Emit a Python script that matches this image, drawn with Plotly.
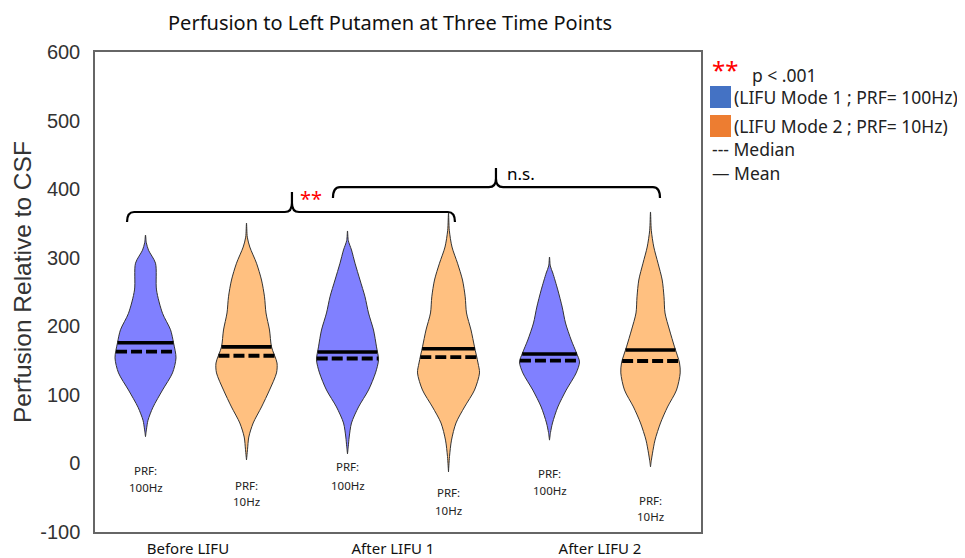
import numpy as np
import plotly.graph_objects as go

# ---------------- data ----------------
groups = ["Before LIFU", "After LIFU 1", "After LIFU 2"]
modes = ["100Hz", "10Hz", "100Hz", "10Hz", "100Hz", "10Hz"]
violin_pos = [0, 1, 2, 3, 4, 5]
y_ticks = [-100, 0, 100, 200, 300, 400, 500, 600]
y_ticktext = ["-100", "0", "100", "200", "300", "400", "500", "600"]

# density profiles: value -> half width (in px of a 101px category)
v1_vals = [333, 322, 311, 292, 253, 219, 195, 176, 154, 132, 107, 82, 63, 50, 39]
v1_hw   = [0,   0.8, 3,   10,  11,  17,  25,  28,  30.5, 27, 17,  7.5, 2.5, 1, 0]
v2_vals = [350.6, 330, 315.6, 292, 267.5, 243, 219.4, 194.6, 170, 146.5, 132, 107, 82.3, 59, 38.5, 20, 5]
v2_hw   = [0,     0.8, 3.3,   10,  15,    18,  19.5,  23,    25,  30.5,  30,  23,  15,   6.7, 2.3, 1, 0]
v3_vals = [339, 325, 311.3, 292, 267.5, 243, 219.4, 194.6, 170, 151, 132, 107, 82.3, 59, 38.5, 25, 13.8]
v3_hw   = [0,   0.8, 4,     7.5, 12.5,  17.5, 21,   26,    29,  31,  28,  21,  11,   4,  1.7,  0.8, 0]
v4_vals = [365, 340, 315.6, 292, 267.5, 243, 219.4, 194.6, 170, 146.5, 132, 107, 82.3, 59, 34, 10, -12.5]
v4_hw   = [0,   0.8, 3.5,   9,   14,    16.7, 18,   22.5,  26,  29.5,  31,  26,  16,   7.5, 3, 1, 0]
v5_vals = [301, 288, 277.7, 253, 228, 204.8, 180, 161, 148, 132, 107, 82.3, 59, 45, 34]
v5_hw   = [0,   0.8, 3.3,   8.3, 12.7, 16,   21.7, 27,  30,  26.7, 16.7, 8.3, 3, 1, 0]
v6_vals = [366.7, 340, 315.6, 292, 267.5, 243, 219.4, 194.6, 170, 146.5, 132, 107, 82.3, 59, 34, 15, 4, -5]
v6_hw   = [0,     0.8, 3.3,   7.5, 11.7,  13.5, 14.5, 19,    24,  29,    29.7, 26, 17,   10, 4.5, 2, 0.8, 0]

profiles_vals = [v1_vals, v2_vals, v3_vals, v4_vals, v5_vals, v6_vals]
profiles_hw = [v1_hw, v2_hw, v3_hw, v4_hw, v5_hw, v6_hw]

means   = [176, 170, 162.5, 167.3, 159.6, 165.4]
medians = [163, 157, 153, 155, 150, 149.4]

# PRF label vertical positions (value units): first line, second line
prf_y1 = [-9.6, -31.5, -5.2, -43, -15.4, -54]
prf_y2 = [-35.8, -56, -31.5, -68, -40, -78]

# ---------------- style ----------------
fill_colors = ["#8080ff", "#ffc080"]
legend_colors = ["#4472c4", "#ed7d31"]
PX = 101.0  # px per category unit

OFF = 8  # default page body margin
W, H = 965 - OFF, 558 - OFF
L, T = 95 - OFF, 52 - OFF
PW, PH = 606, 480
R, B = W - L - PW, H - T - PH


def px2paper(x, y):
    # x, y are page pixel coordinates
    x -= OFF
    y -= OFF
    return (x - L) / PW, (T + PH - y) / PH


fig = go.Figure()

for i, (vals, hw) in enumerate(zip(profiles_vals, profiles_hw)):
    c = violin_pos[i]
    vals = np.array(vals, float)
    hw = np.array(hw, float) / PX
    xs = np.concatenate([c + hw, (c - hw)[::-1]])
    ys = np.concatenate([vals, vals[::-1]])
    fig.add_trace(go.Scatter(
        x=xs, y=ys, mode="lines", fill="toself",
        fillcolor=fill_colors[i % 2],
        line=dict(color="#333333", width=1, shape="spline", smoothing=0.8),
        hoverinfo="skip", showlegend=False))
    order = np.argsort(vals)
    for val, dash, lw in [(means[i], "solid", 3.6), (medians[i], "11px,4px", 3.8)]:
        w = np.interp(val, vals[order], hw[order])
        fig.add_trace(go.Scatter(
            x=[c - w, c + w], y=[val, val], mode="lines",
            line=dict(color="black", width=lw, dash=dash),
            hoverinfo="skip", showlegend=False))

annotations = []
for i in range(6):
    c = violin_pos[i]
    for yy, txt in [(prf_y1[i], "PRF:"), (prf_y2[i], modes[i])]:
        annotations.append(dict(x=c, y=yy, xref="x", yref="y", text=txt,
                                xanchor="center", yanchor="middle", showarrow=False,
                                font=dict(family="Noto Sans", size=11.5, color="#222")))

# significance brackets
brackets = [
    dict(x0=-0.183, x1=3.064, xm=1.45, yend=352, yh=366.7, ytip=396,
         label="**", lx=1.64, ly=387, color="red", size=20),
    dict(x0=1.856, x1=5.094, xm=3.47, yend=387, yh=403, ytip=431,
         label="n.s.", lx=3.72, ly=423.5, color="black", size=17),
]
shapes = []
for b in brackets:
    dx = 0.07
    ymid = b["yh"] + (b["ytip"] - b["yh"]) * 0.45
    path = (f"M {b['x0']},{b['yend']} Q {b['x0']},{b['yh']} {b['x0']+dx},{b['yh']} "
            f"L {b['xm']-dx},{b['yh']} Q {b['xm']},{b['yh']} {b['xm']},{ymid} "
            f"L {b['xm']},{b['ytip']} L {b['xm']},{ymid} "
            f"Q {b['xm']},{b['yh']} {b['xm']+dx},{b['yh']} "
            f"L {b['x1']-dx},{b['yh']} Q {b['x1']},{b['yh']} {b['x1']},{b['yend']}")
    shapes.append(dict(type="path", path=path, xref="x", yref="y",
                       line=dict(color="black", width=2.2)))
    annotations.append(dict(x=b["lx"], y=b["ly"], xref="x", yref="y", text=b["label"],
                            xanchor="center", yanchor="middle", showarrow=False,
                            font=dict(family="Noto Sans", size=b["size"], color=b["color"])))

# custom legend
lg_font = dict(family="Noto Sans", size=17.5, color="#222")
x, y = px2paper(725, 70)
annotations.append(dict(x=x, y=y, xref="paper", yref="paper", text="**", showarrow=False,
                        xanchor="center", yanchor="middle",
                        font=dict(family="Noto Sans", size=24, color="red")))
x, y = px2paper(750, 75)
annotations.append(dict(x=x, y=y, xref="paper", yref="paper", text="p < .001", showarrow=False,
                        xanchor="left", yanchor="middle", font=lg_font))
legend_texts = ["(LIFU Mode 1 ; PRF= 100Hz)", "(LIFU Mode 2 ; PRF= 10Hz)"]
legend_ys = [97, 126]
for col, txt, ly in zip(legend_colors, legend_texts, legend_ys):
    x0, y0 = px2paper(710, ly - 11)
    x1, y1 = px2paper(731, ly + 11)
    shapes.append(dict(type="rect", xref="paper", yref="paper", x0=x0, x1=x1, y0=y1, y1=y0,
                       fillcolor=col, line=dict(width=0)))
    x, y = px2paper(732, ly)
    annotations.append(dict(x=x, y=y, xref="paper", yref="paper", text=txt, showarrow=False,
                            xanchor="left", yanchor="middle", font=lg_font))
for txt, ly in [("--- Median", 149), ("\u2014 Mean", 173)]:
    x, y = px2paper(710, ly)
    annotations.append(dict(x=x, y=y, xref="paper", yref="paper", text=txt, showarrow=False,
                            xanchor="left", yanchor="middle", font=lg_font))

# y-axis title
x, y = px2paper(22, 282)
annotations.append(dict(x=x, y=y, xref="paper", yref="paper", text="Perfusion Relative to CSF",
                        textangle=-90, showarrow=False, xanchor="center", yanchor="middle",
                        font=dict(family="Liberation Sans", size=24.5, color="#333")))

# chart title (as annotation in paper coords, kept inside the figure)
x, y = px2paper(390, 22)
annotations.append(dict(x=x, y=y, xref="paper", yref="paper",
                        text="Perfusion to Left Putamen at Three Time Points",
                        showarrow=False, xanchor="center", yanchor="middle",
                        font=dict(family="Noto Sans", size=20, color="#111")))

fig.update_layout(
    width=W, height=H,
    margin=dict(l=L, r=R, t=T, b=B, autoexpand=False),
    paper_bgcolor="white", plot_bgcolor="white",
    xaxis=dict(range=[-0.5, 5.5], tickvals=[0.42, 2.45, 4.5], ticktext=groups,
               showgrid=False, zeroline=False, ticks="", automargin=False,
               showline=True, mirror=True, linecolor="#666", linewidth=1.5,
               tickfont=dict(family="Noto Sans", size=15, color="#111"),
               ticklabelstandoff=2),
    yaxis=dict(range=[-100, 600], tickvals=y_ticks, ticktext=y_ticktext,
               showgrid=False, zeroline=False, ticks="", automargin=False,
               showline=True, mirror=True, linecolor="#666", linewidth=1.5,
               tickfont=dict(family="Liberation Sans", size=20, color="#333"),
               ticklabelstandoff=9),
    shapes=shapes, annotations=annotations,
    showlegend=False,
)

fig.write_html("out.html")
